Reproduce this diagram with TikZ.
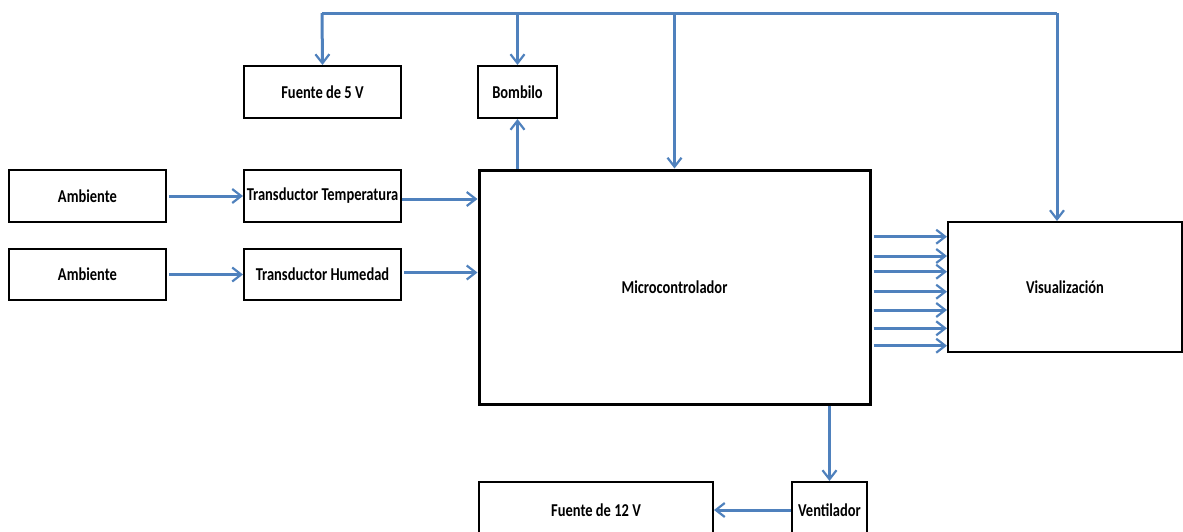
\documentclass[tikz,border=0pt]{standalone}
\usepackage{fontspec}
\usepackage{graphicx}
\setmainfont{Carlito}
\usetikzlibrary{arrows.meta}
\definecolor{linkblue}{HTML}{4F81BD}
% block labels are set slightly narrow and tall
\newcommand\blocklabel[1]{\scalebox{1}[1.25]{#1}}
\begin{document}
\begin{tikzpicture}[x=1pt,y=-1pt,
  box/.style={draw=black, line width=2pt, fill=white, inner sep=0pt,
    font=\fontsize{14.5}{17}\selectfont\bfseries},
  link/.style={draw=linkblue, line width=3pt},
  arr/.style={link, -{Straight Barb[length=9pt,width=14pt,line width=2.2pt]}},
]
\useasboundingbox (0,0) rectangle (1183,531);

% blocks
\node[box, minimum width=157, minimum height=52] (f5)   at (322.5,92)  {\blocklabel{Fuente de 5 V}};
\node[box, minimum width=79,  minimum height=52] (bomb) at (517.5,92)  {\blocklabel{Bombilo}};
\node[box, minimum width=157, minimum height=52] (a1)   at (87.5,196)  {\blocklabel{Ambiente}};
\node[box, minimum width=157, minimum height=51] (a2)   at (87.5,274.5) {\blocklabel{Ambiente}};
\node[box, minimum width=157, minimum height=52] (t1)   at (322.5,196) {\blocklabel{Transductor Temperatura}};
\node[box, minimum width=157, minimum height=51] (t2)   at (322.5,274.5) {\blocklabel{Transductor Humedad}};
\node[box, line width=3pt, minimum width=391, minimum height=234] (mc) at (674.5,287) {\blocklabel{Microcontrolador}};
\node[box, minimum width=234, minimum height=130] (vis)  at (1065,287) {\blocklabel{Visualización}};
\node[box, minimum width=234, minimum height=56] (f12)  at (596,510)   {\blocklabel{Fuente de 12 V}};
\node[box, minimum width=75,  minimum height=56] (vent) at (829.5,510) {\blocklabel{Ventilador}};

% supply bus along the top
\coordinate (busL) at (322,13);
\coordinate (busR) at (1057,13);
\draw[link] (busL) -- (busR);
\draw[arr] (busL) -- (f5.north);
\draw[arr] (bomb.north |- busL) -- (bomb.north);
\draw[arr] (mc.north |- busL) -- (mc.north);
\draw[arr] (busR) -- (busR |- vis.north);

% sensing chain
\draw[arr, shorten <=2pt] (a1.east) -- (t1.west);
\draw[arr, shorten <=2pt] (a2.east) -- (t2.west);
\draw[arr] ([yshift=-3pt]t1.east) -- ([yshift=-3pt]t1.east -| mc.west);
\draw[arr, shorten <=2pt] ([yshift=2pt]t2.east) -- ([yshift=2pt]t2.east -| mc.west);

% controller outputs
\draw[arr] (bomb.south |- mc.north) -- (bomb.south);
\foreach \yy in {236.7,256,271.7,291.7,310,328.3,345.7}
  \draw[arr, shorten <=2pt] (mc.east |- 0,\yy) -- (vis.west |- 0,\yy);
\draw[arr] (vent.north |- mc.south) -- (vent.north);
\draw[arr] (vent.west) -- (f12.east);
\end{tikzpicture}
\end{document}
